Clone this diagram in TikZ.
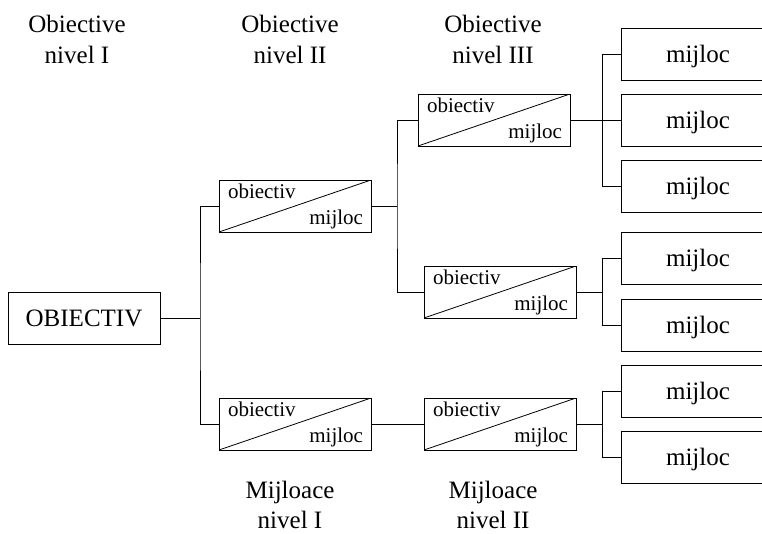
\documentclass[tikz,border=0pt]{standalone}
\usepackage{fontspec}
\setmainfont{Liberation Serif}
\begin{document}
\begin{tikzpicture}[x=1pt,y=-1pt,line width=0.8pt,
  big/.style={font=\fontsize{25}{30}\selectfont},
  small/.style={font=\fontsize{21}{25}\selectfont,inner sep=0pt},
  rbox/.style={draw,minimum width=152pt,minimum height=52pt,inner sep=0pt,big},
  dbox/.style={draw,minimum width=152pt,minimum height=52pt,inner sep=0pt,
    path picture={\draw[line width=0.8pt] (path picture bounding box.south west) -- (path picture bounding box.north east);}},
  mbox/.style={draw,minimum width=154pt,minimum height=52pt,inner sep=0pt,big,text depth=0pt},
  title/.style={big,anchor=base,inner sep=0pt}]
\useasboundingbox (0,0) rectangle (762,533);
\clip (0,0) rectangle (762,533);
% titles
\node[title] (t1a) at (77,32) {Obiective};
\node[title] (t1b) at (77,63) {nivel I};
\node[title] (t2a) at (290,32) {Obiective};
\node[title] (t2b) at (290,63) {nivel II};
\node[title] (t3a) at (493,32) {Obiective};
\node[title] (t3b) at (493,63) {nivel III};
\node[title] (b1a) at (290,498) {Mijloace};
\node[title] (b1b) at (290,528) {nivel I};
\node[title] (b2a) at (493,498) {Mijloace};
\node[title] (b2b) at (493,528) {nivel II};
% main box
\node[rbox] (O) at (84,318) {OBIECTIV};
% split boxes
\node[dbox] (A) at (295,206) {};
\node[dbox] (B) at (295,424) {};
\node[dbox] (C) at (494,120) {};
\node[dbox] (D) at (500,292) {};
\node[dbox] (E) at (500,424) {};
\foreach \n in {A,B,C,D,E}{
  \node[small,anchor=base west] (\n o) at ([shift={(9,19)}]\n.north west) {obiectiv};
  \node[small,anchor=base east] (\n m) at ([shift={(-8,-8)}]\n.south east) {mijloc};
}
% mijloc boxes
\node[mbox] (M1) at (698,54) {mijloc};
\node[mbox] (M2) at (698,120) {mijloc};
\node[mbox] (M3) at (698,186) {mijloc};
\node[mbox] (M4) at (698,258) {mijloc};
\node[mbox] (M5) at (698,325) {mijloc};
\node[mbox] (M6) at (698,391) {mijloc};
\node[mbox] (M7) at (698,457) {mijloc};
% junctions
\coordinate (j1) at (200,318);
\coordinate (j2) at (397,206);
\coordinate (j3a) at (602,120);
\coordinate (j3b) at (602,292);
\coordinate (j3c) at (602,424);
% connectors
\draw (O.east) -- (j1);
\draw (A.west) -| (j1) |- (B.west);
\draw (A.east) -- (j2);
\draw (C.west) -| (j2) |- (D.west);
\draw (B.east) -- (E.west);
\draw (C.east) -- (M2.west);
\draw (M1.west) -| (j3a) |- (M3.west);
\draw (D.east) -- (j3b);
\draw (M4.west) -| (j3b) |- (M5.west);
\draw (E.east) -- (j3c);
\draw (M6.west) -| (j3c) |- (M7.west);
\end{tikzpicture}
\end{document}
